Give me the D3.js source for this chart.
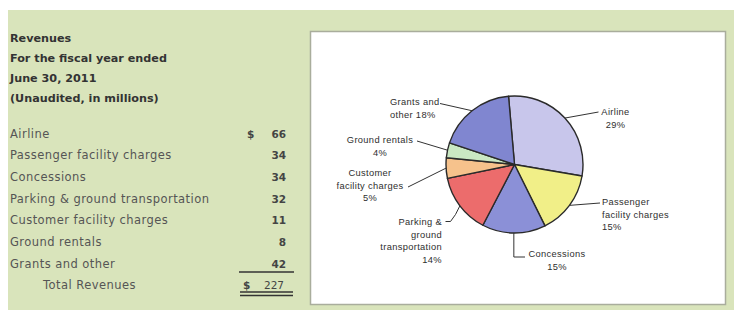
<!DOCTYPE html>
<html>
<head>
<meta charset="utf-8">
<script src="https://cdn.jsdelivr.net/npm/d3@7"></script>
<style>
  html, body { margin: 0; padding: 0; background: #fff; }
  svg { display: block; }
</style>
</head>
<body>
<svg id="chart" width="734" height="310"></svg>
<script>
// revenue data, fiscal year ended June 30, 2011 (in millions)
const titleLines = ["Revenues", "For the fiscal year ended", "June 30, 2011", "(Unaudited, in millions)"];
const categories = ["Airline", "Passenger facility charges", "Concessions", "Parking & ground transportation",
  "Customer facility charges", "Ground rentals", "Grants and other"];
const revenues = [66, 34, 34, 32, 11, 8, 42];
const percentLabels = ["29%", "15%", "15%", "14%", "5%", "4%", "18%"];
const pieLabelText = [
  ["Airline", percentLabels[0]],
  ["Passenger", "facility charges", percentLabels[1]],
  ["Concessions", percentLabels[2]],
  ["Parking &", "ground", "transportation", percentLabels[3]],
  ["Customer", "facility charges", percentLabels[4]],
  ["Ground rentals", percentLabels[5]],
  ["Grants and", "other  " + percentLabels[6]]
];
const sliceColors = ["#c8c6eb", "#f1ef88", "#8b90d7", "#ec6c6c", "#f6c28c", "#cae8c3", "#8086d0"];

const svg = d3.select("#chart");
const width = 734, height = 310;

// green panel behind everything
svg.append("rect")
  .attr("x", 8).attr("y", 10)
  .attr("width", width - 8).attr("height", height - 10)
  .attr("fill", "#d9e4bb");

// ---- left table ----
const left = svg.append("g");

left.selectAll("text.title")
  .data(titleLines)
  .join("text")
  .attr("class", "title")
  .attr("x", 10)
  .attr("y", (d, i) => 42 + i * 20)
  .attr("font-family", "DejaVu Sans")
  .attr("font-weight", "bold")
  .attr("font-size", 11.2)
  .attr("fill", "#333")
  .text(d => d);

const rowY = d3.scaleBand()
  .domain(d3.range(categories.length + 1))
  .range([123, 296]);

const rows = left.selectAll("g.row")
  .data(categories)
  .join("g")
  .attr("class", "row")
  .attr("transform", (d, i) => `translate(0,${rowY(i) + rowY.bandwidth() / 2 + 4})`);

rows.append("text")
  .attr("x", 10)
  .attr("font-family", "DejaVu Sans")
  .attr("font-size", 11.5)
  .attr("letter-spacing", 0.45)
  .attr("fill", "#555")
  .text(d => d);

rows.append("text")
  .attr("x", 286)
  .attr("text-anchor", "end")
  .attr("font-family", "DejaVu Sans")
  .attr("font-weight", "bold")
  .attr("font-size", 10.5)
  .attr("fill", "#444")
  .text((d, i) => revenues[i]);

rows.filter((d, i) => i === 0).append("text")
  .attr("x", 247)
  .attr("font-family", "DejaVu Sans")
  .attr("font-weight", "bold")
  .attr("font-size", 10.5)
  .attr("fill", "#444")
  .text("$");

const totalY = rowY(categories.length) + rowY.bandwidth() / 2 + 4;
left.append("text")
  .attr("x", 43).attr("y", totalY)
  .attr("font-family", "DejaVu Sans")
  .attr("font-size", 11.5)
  .attr("letter-spacing", 0.45)
  .attr("fill", "#555")
  .text("Total Revenues");

left.append("text")
  .attr("x", 243).attr("y", totalY)
  .attr("font-family", "DejaVu Sans")
  .attr("font-weight", "bold")
  .attr("font-size", 10.5)
  .attr("fill", "#444")
  .text("$");

left.append("text")
  .attr("x", 284).attr("y", totalY)
  .attr("text-anchor", "end")
  .attr("font-family", "DejaVu Sans")
  .attr("font-size", 10.5)
  .attr("fill", "#444")
  .text(d3.sum(revenues));

// rules around the total
const rule = left.append("g").attr("stroke", "#333").attr("stroke-width", 1.6);
rule.append("line").attr("x1", 239).attr("x2", 294).attr("y1", 272).attr("y2", 272);
rule.append("line").attr("x1", 240).attr("x2", 293).attr("y1", 292).attr("y2", 292);
rule.append("line").attr("x1", 240).attr("x2", 293).attr("y1", 295.5).attr("y2", 295.5);

// ---- pie panel ----
svg.append("rect")
  .attr("x", 310.5).attr("y", 31.5)
  .attr("width", 415).attr("height", 273)
  .attr("fill", "#fff")
  .attr("stroke", "#a9ad9c")
  .attr("stroke-width", 1.5);

const cx = 514.5, cy = 164.5, radius = 68.5;
const start = -5 * Math.PI / 180;

const pie = d3.pie()
  .sort(null)
  .startAngle(start)
  .endAngle(start + 2 * Math.PI)
  .value(d => d);

const arcs = pie(revenues);
const arc = d3.arc().innerRadius(0).outerRadius(radius);

const pg = svg.append("g").attr("transform", `translate(${cx},${cy})`);

pg.selectAll("path")
  .data(arcs)
  .join("path")
  .attr("d", arc)
  .attr("fill", (d, i) => sliceColors[i])
  .attr("stroke", "#2a2a2a")
  .attr("stroke-width", 1.4)
  .attr("stroke-linejoin", "round");

// label placement (relative to pie center): leader end points, text anchor point, alignment
const labelLayout = [
  { end: [[84, -52.5]], tx: 101, ty: -49.5, anchor: "middle" },
  { end: [[85.5, 38.5]], tx: 87.5, ty: 40.5, anchor: "start" },
  { mid: 92.5, end: [[10.5, 92.5]], tx: 42.5, ty: 92.5, anchor: "middle" },
  { end: [[-59, 50], [-64, 57], [-69, 57]], tx: -72.5, ty: 60.5, anchor: "end" },
  { end: [[-106.5, 22.5]], tx: -144.5, ty: 11.5, anchor: "middle" },
  { end: [[-97.5, -23.5]], tx: -134.5, ty: -21.5, anchor: "middle" },
  { end: [[-74.5, -61]], tx: -124.5, ty: -59.5, anchor: "start" }
];

const leaders = pg.append("g")
  .attr("fill", "none")
  .attr("stroke", "#333")
  .attr("stroke-width", 1);

leaders.selectAll("path")
  .data(arcs)
  .join("path")
  .attr("d", (d, i) => {
    const a = (d.startAngle + d.endAngle) / 2;
    const p0 = [radius * Math.sin(a), -radius * Math.cos(a)];
    const pts = [p0];
    const lay = labelLayout[i];
    if (lay.mid) pts.push([p0[0], lay.mid]);
    return d3.line()(pts.concat(lay.end));
  });

const labels = pg.selectAll("text.lbl")
  .data(arcs)
  .join("text")
  .attr("class", "lbl")
  .attr("font-family", "Liberation Sans")
  .attr("font-size", 9.3)
  .attr("letter-spacing", 0.35)
  .attr("fill", "#2e2e2e")
  .attr("text-anchor", (d, i) => labelLayout[i].anchor)
  .attr("transform", (d, i) => `translate(${labelLayout[i].tx},${labelLayout[i].ty})`);

labels.selectAll("tspan")
  .data((d, i) => pieLabelText[i])
  .join("tspan")
  .attr("x", 0)
  .attr("y", (d, j) => j * 12.5)
  .text(d => d);
</script>
</body>
</html>
